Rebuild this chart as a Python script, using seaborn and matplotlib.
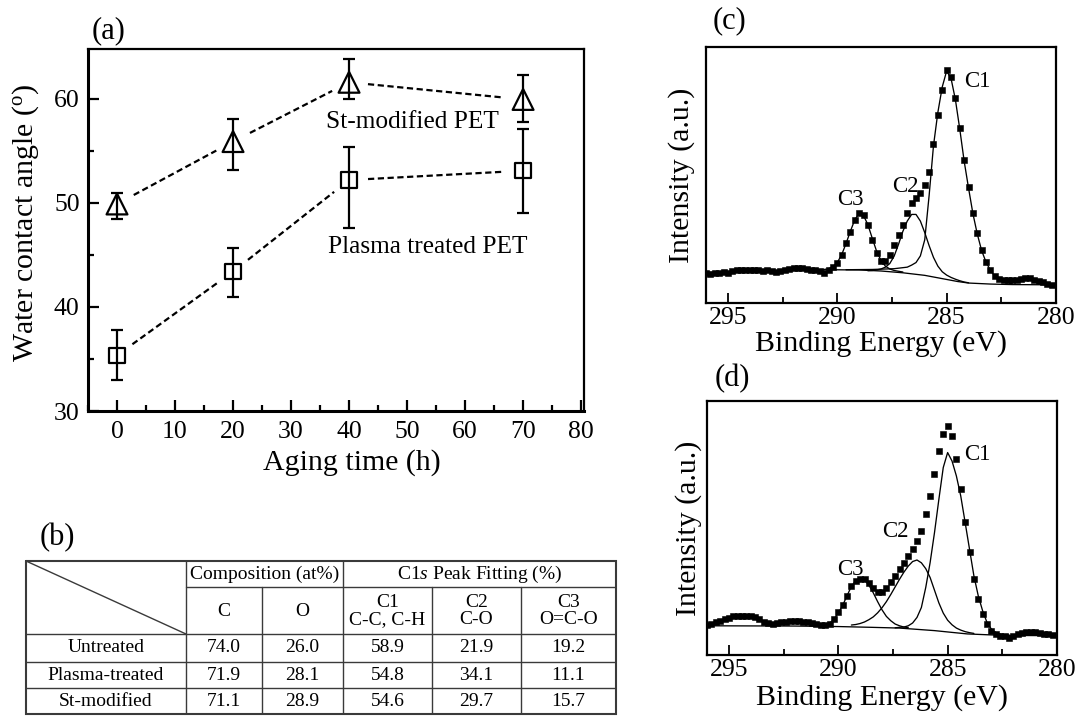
import numpy as np
import pandas as pd
import matplotlib
matplotlib.use("Agg")
import matplotlib.pyplot as plt
import seaborn as sns
from matplotlib.ticker import MultipleLocator

# ---------------- (a) water contact angle ----------------
aging_h = [0, 20, 40, 70]
st_angle = [49.9, 55.9, 61.6, 59.95]
st_err_low = [1.4, 2.7, 1.6, 2.15]
st_err_high = [1.1, 2.2, 2.2, 2.35]
plasma_angle = [35.35, 43.4, 52.2, 53.1]
plasma_err_low = [2.35, 2.4, 4.6, 4.1]
plasma_err_high = [2.45, 2.3, 3.2, 4.05]

# ---------------- (b) table ----------------
row_labels = ["Untreated", "Plasma-treated", "St-modified"]
comp_C = ["74.0", "71.9", "71.1"]
comp_O = ["26.0", "28.1", "28.9"]
fit_C1 = ["58.9", "54.8", "54.6"]
fit_C2 = ["21.9", "34.1", "29.7"]
fit_C3 = ["19.2", "11.1", "15.7"]
sub_headers = ["C", "O", "C1\nC-C, C-H", "C2\nC-O", "C3\nO=C-O"]

# ---------------- (c) / (d) XPS C1s spectra ----------------
be_data = [296.0, 295.8, 295.6, 295.4, 295.2, 295.0, 294.8, 294.6, 294.4, 294.2,
           294.0, 293.8, 293.6, 293.4, 293.2, 293.0, 292.8, 292.6, 292.4, 292.2,
           292.0, 291.8, 291.6, 291.4, 291.2, 291.0, 290.8, 290.6, 290.4, 290.2,
           290.0, 289.8, 289.6, 289.4, 289.2, 289.0, 288.8, 288.6, 288.4, 288.2,
           288.0, 287.8, 287.6, 287.4, 287.2, 287.0, 286.8, 286.6, 286.4, 286.2,
           286.0, 285.8, 285.6, 285.4, 285.2, 285.0, 284.8, 284.6, 284.4, 284.2,
           284.0, 283.8, 283.6, 283.4, 283.2, 283.0, 282.8, 282.6, 282.4, 282.2,
           282.0, 281.8, 281.6, 281.4, 281.2, 281.0, 280.8, 280.6, 280.4, 280.2]

c_data = [11.7, 11.4, 11.9, 11.7, 12.1, 11.8, 12.5, 12.7, 13.0, 12.7,
          13.0, 12.7, 13.0, 12.5, 12.7, 12.5, 12.2, 12.5, 13.0, 13.2,
          13.5, 13.6, 13.5, 13.2, 13.0, 12.7, 12.5, 11.7, 13.0, 14.0,
          15.6, 18.8, 23.4, 27.9, 32.5, 35.1, 34.4, 30.5, 24.7, 19.5,
          16.6, 16.6, 18.8, 22.7, 26.6, 30.5, 35.1, 39.0, 40.9, 42.9,
          46.0, 51.3, 62.3, 73.4, 83.1, 91.2, 88.3, 79.9, 68.2, 55.8,
          45.5, 35.1, 27.3, 20.8, 16.2, 13.0, 10.6, 9.4, 8.8, 8.8,
          8.8, 9.1, 9.4, 9.6, 9.6, 9.1, 8.6, 8.1, 7.5, 7.0]

d_data = [11.8, 12.2, 12.8, 13.5, 14.2, 14.7, 15.2, 15.5, 15.5, 15.5,
          15.2, 14.8, 14.2, 13.1, 12.5, 12.2, 12.5, 12.8, 13.1, 13.2,
          13.5, 13.4, 13.1, 12.8, 12.6, 12.2, 11.8, 11.8, 12.3, 14.2,
          16.8, 19.7, 23.3, 27.0, 29.2, 30.1, 29.9, 28.3, 26.2, 24.9,
          24.9, 26.2, 28.6, 31.2, 33.8, 36.4, 39.1, 41.7, 45.0, 48.9,
          55.4, 62.6, 71.2, 80.3, 86.9, 90.1, 86.2, 77.1, 65.3, 52.2,
          40.4, 29.9, 22.0, 16.1, 12.2, 9.6, 8.3, 7.6, 7.3, 6.8,
          7.3, 8.1, 8.7, 8.9, 9.2, 8.9, 8.7, 8.4, 8.1, 7.9]

# fitted components (read as total height incl. background)
c_base_be = [296.0, 294.0, 292.0, 290.4, 289.0, 288.0, 287.0, 286.0, 285.5, 285.0, 284.5, 284.0, 283.0, 282.0, 280.1]
c_base = [11.9, 12.3, 12.7, 13.0, 12.9, 12.5, 11.8, 10.8, 10.0, 9.2, 8.4, 7.8, 7.4, 7.2, 7.1]

c_c3_be = [290.8, 290.6, 290.4, 290.2, 290.0, 289.8, 289.6, 289.4, 289.2, 289.0,
           288.8, 288.6, 288.4, 288.2, 288.0, 287.8, 287.6, 287.4, 287.2, 287.0]
c_c3 = [13.0, 13.1, 13.4, 14.2, 15.8, 18.8, 23.2, 28.0, 32.5, 35.0,
        34.2, 30.6, 25.3, 20.2, 16.6, 14.4, 13.3, 12.7, 12.4, 12.1]

c_c2_be = [288.6, 288.4, 288.2, 288.0, 287.8, 287.6, 287.4, 287.2, 287.0, 286.8,
           286.6, 286.4, 286.2, 286.0, 285.8, 285.6, 285.4, 285.2, 285.0, 284.8,
           284.6, 284.4, 284.2, 284.0]
c_c2 = [12.6, 12.7, 12.9, 13.3, 14.0, 15.4, 18.3, 22.9, 28.0, 32.0,
        34.6, 34.6, 32.0, 27.5, 22.4, 17.8, 14.4, 12.2, 10.9, 10.0,
        9.3, 8.7, 8.2, 7.9]

c_c1_be = [289.6, 288.4, 287.4, 287.0, 286.8, 286.6, 286.4, 286.2, 286.0, 285.8,
           285.6, 285.4, 285.2, 285.0, 284.8, 284.6, 284.4, 284.2, 284.0, 283.8,
           283.6, 283.4, 283.2, 283.0, 282.8, 282.6, 282.4, 282.2, 282.0]
c_c1 = [13.0, 13.1, 13.4, 13.8, 14.0, 14.8, 15.8, 18.4, 24.7, 42.0,
        61.5, 74.5, 84.4, 90.6, 87.8, 79.5, 68.0, 55.5, 45.0, 35.0,
        27.0, 20.5, 16.0, 12.8, 10.5, 9.2, 8.4, 7.9, 7.6]

d_base_be = [296.0, 292.0, 290.0, 288.5, 287.2, 286.4, 285.6, 284.8, 284.1, 283.0, 282.0, 280.1]
d_base = [11.5, 11.4, 11.2, 10.9, 10.6, 10.1, 9.6, 8.9, 8.3, 7.9, 7.7, 7.6]

d_c3_be = [291.0, 290.8, 290.6, 290.4, 290.2, 290.0, 289.8, 289.6, 289.4, 289.2,
           289.0, 288.8, 288.6, 288.4, 288.2, 288.0, 287.8, 287.6, 287.4, 287.2,
           287.0, 286.8]
d_c3 = [11.5, 11.6, 11.8, 12.5, 14.0, 16.5, 19.5, 23.3, 27.0, 29.3,
        30.1, 29.5, 27.5, 24.5, 21.0, 17.8, 15.2, 13.5, 12.2, 11.5,
        11.0, 10.8]

d_c2_be = [289.4, 289.2, 289.0, 288.8, 288.6, 288.4, 288.2, 288.0, 287.8, 287.6,
           287.4, 287.2, 287.0, 286.8, 286.6, 286.4, 286.2, 286.0, 285.8, 285.6,
           285.4, 285.2, 285.0, 284.8, 284.6, 284.4, 284.2, 284.0, 283.8]
d_c2 = [11.8, 12.0, 12.4, 13.0, 13.9, 15.0, 16.6, 18.6, 21.0, 23.8,
        26.8, 29.8, 32.6, 35.0, 36.8, 37.4, 36.3, 34.0, 30.5, 25.5,
        20.5, 16.5, 13.7, 11.9, 10.6, 9.8, 9.2, 8.8, 8.5]

d_c1_be = [287.4, 287.2, 287.0, 286.8, 286.6, 286.4, 286.2, 286.0, 285.8, 285.6,
           285.4, 285.2, 285.0, 284.8, 284.6, 284.4, 284.2, 284.0, 283.8, 283.6,
           283.4, 283.2, 283.0, 282.8, 282.6, 282.4, 282.2]
d_c1 = [10.7, 10.9, 11.0, 11.5, 12.6, 14.8, 18.7, 26.6, 36.4, 48.2,
        61.3, 73.8, 79.7, 76.4, 70.5, 62.6, 52.2, 41.7, 31.2, 23.3,
        17.4, 12.8, 10.2, 8.9, 8.3, 8.0, 7.9]

# ---------------- style ----------------
sns.set_style("ticks")
plt.rcParams["font.family"] = ["Liberation Serif", "DejaVu Serif"]
plt.rcParams["mathtext.fontset"] = "custom"
plt.rcParams["mathtext.rm"] = "Liberation Serif"
plt.rcParams["mathtext.it"] = "Liberation Serif:italic"
plt.rcParams["text.color"] = "black"
plt.rcParams["axes.labelcolor"] = "black"
plt.rcParams["xtick.color"] = "black"
plt.rcParams["ytick.color"] = "black"

W, H = 1079, 718
fig = plt.figure(figsize=(W / 100, H / 100), dpi=100)
fig.patch.set_facecolor("white")


def px_axes(l, t, r, b):
    return fig.add_axes([l / W, 1 - b / H, (r - l) / W, (b - t) / H])


def fig_text(x, y, s, **kw):
    fig.text(x / W, 1 - y / H, s, **kw)


# ================= panel (a) =================
ax_a = px_axes(88, 49, 584, 411)
ax_a.set_xlim(-5, 80.5)
ax_a.set_ylim(30, 64.8)

ax_a.errorbar(aging_h, st_angle, yerr=[st_err_low, st_err_high], fmt="none",
              ecolor="black", elinewidth=1.6, capsize=4.5, capthick=1.6, zorder=3)
ax_a.errorbar(aging_h, plasma_angle, yerr=[plasma_err_low, plasma_err_high], fmt="none",
              ecolor="black", elinewidth=1.6, capsize=4.5, capthick=1.6, zorder=3)

df_st = pd.DataFrame({"t": aging_h, "angle": st_angle})
df_pl = pd.DataFrame({"t": aging_h, "angle": plasma_angle})
sns.scatterplot(data=df_st, x="t", y="angle", marker="^", s=15 ** 2,
                facecolor="none", edgecolor="black", linewidth=1.6, ax=ax_a, zorder=4)
sns.scatterplot(data=df_pl, x="t", y="angle", marker="s", s=11 ** 2,
                facecolor="none", edgecolor="black", linewidth=1.6, ax=ax_a, zorder=4)


def gapped_dashes(ax, xs, ys, gap_px):
    pts = ax.transData.transform(np.column_stack([xs, ys]))
    inv = ax.transData.inverted()
    for p0, p1 in zip(pts[:-1], pts[1:]):
        d = p1 - p0
        u = d / np.hypot(*d)
        a = inv.transform(p0 + u * gap_px)
        b = inv.transform(p1 - u * gap_px)
        ax.plot([a[0], b[0]], [a[1], b[1]], color="black", lw=1.6,
                linestyle=(0, (2.8, 1.6)), zorder=2)


gapped_dashes(ax_a, aging_h, st_angle, 19)
gapped_dashes(ax_a, aging_h, plasma_angle, 19)

ax_a.set_xticks([0, 10, 20, 30, 40, 50, 60, 70, 80])
ax_a.set_yticks([30, 40, 50, 60])
ax_a.xaxis.set_minor_locator(MultipleLocator(5))
ax_a.yaxis.set_minor_locator(MultipleLocator(5))
ax_a.tick_params(which="major", direction="in", length=8, width=1.6, labelsize=18.5, pad=6)
ax_a.tick_params(which="minor", direction="in", length=4.5, width=1.6)
ax_a.tick_params(axis="x", which="major", pad=7)
for side in ["left", "bottom"]:
    ax_a.spines[side].set_linewidth(2.2)
for side in ["top", "right"]:
    ax_a.spines[side].set_linewidth(1.6)
for sp in ax_a.spines.values():
    sp.set_color("black")

ax_a.set_xlabel("Aging time (h)", fontsize=21.5)
ax_a.xaxis.label.set_va("baseline")
ax_a.xaxis.set_label_coords(0.531, -(470 - 411) / 362)
ax_a.set_ylabel("Water contact angle ($^{\\rm o}$)", fontsize=21.5)
ax_a.yaxis.label.set_va("baseline")
ax_a.yaxis.set_label_coords((33 - 88) / 496, 0.519)

fig_text(412.5, 128, "St-modified PET", fontsize=18.3, ha="center", va="baseline")
fig_text(427.5, 253, "Plasma treated PET", fontsize=18.3, ha="center", va="baseline")
fig_text(109, 31, "(a)", fontsize=22, ha="center", va="center")

# ================= panel (c) and (d) =================
def xps_panel(ax, data, base_be, base, c3_be, c3, c2_be, c2, c1_be, c1):
    df = pd.DataFrame({"be": be_data, "I": data})
    for bx, by in [(base_be, base), (c3_be, c3), (c2_be, c2), (c1_be, c1)]:
        sns.lineplot(x=bx, y=by, sort=False, estimator=None, color="black",
                     lw=0.95, ax=ax, zorder=2)
    sns.scatterplot(data=df, x="be", y="I", marker="s", s=3.9 ** 2, color="black",
                    edgecolor="black", linewidth=0.4, ax=ax, zorder=3)
    ax.set_xlim(296.0, 280.1)
    ax.set_ylim(0, 100)
    ax.set_yticks([])
    ax.set_xticks([295, 290, 285, 280])
    ax.xaxis.set_minor_locator(MultipleLocator(2.5))
    ax.tick_params(axis="x", which="major", direction="in", length=7, width=1.3,
                   labelsize=18.5, pad=3)
    ax.tick_params(axis="x", which="minor", direction="in", length=4, width=1.3)
    for sp in ax.spines.values():
        sp.set_linewidth(1.6)
        sp.set_color("black")
    ax.set_xlabel("Binding Energy (eV)", fontsize=21.5)
    ax.set_ylabel("Intensity (a.u.)", fontsize=21.5)
    ax.xaxis.label.set_va("baseline")
    ax.yaxis.label.set_va("baseline")


ax_c = px_axes(706, 47, 1056, 303)
xps_panel(ax_c, c_data, c_base_be, c_base, c_c3_be, c_c3, c_c2_be, c_c2, c_c1_be, c_c1)
ax_c.xaxis.set_label_coords(0.5, -(351 - 303) / 256)
ax_c.yaxis.set_label_coords((689 - 706) / 350, 0.5)

ax_d = px_axes(707, 401, 1057, 655)
xps_panel(ax_d, d_data, d_base_be, d_base, d_c3_be, d_c3, d_c2_be, d_c2, d_c1_be, d_c1)
ax_d.xaxis.set_label_coords(0.5, -(705 - 655) / 254)
ax_d.yaxis.set_label_coords((696 - 707) / 350, 0.5)

fig_text(730, 21, "(c)", fontsize=22, ha="center", va="center")
fig_text(732, 379, "(d)", fontsize=22, ha="center", va="center")
for (x, y, s) in [(977, 87, "C1"), (905, 192, "C2"), (850, 205, "C3"),
                  (977, 460, "C1"), (895, 537, "C2"), (850, 575, "C3")]:
    fig_text(x, y, s, fontsize=16.5, ha="center", va="baseline")

# ================= panel (b) table =================
fig_text(57, 538, "(b)", fontsize=22, ha="center", va="center")
ax_t = px_axes(26, 561, 616, 714)
ax_t.set_xlim(26, 616)
ax_t.set_ylim(714, 561)
ax_t.axis("off")

col_edges = [26, 186, 262, 343, 432, 521, 616]
row_edges = [561, 587, 634, 662, 688, 714]
lc = "#3a3a3a"
# outer border
ax_t.plot([26, 616, 616, 26, 26], [561, 561, 714, 714, 561], color=lc, lw=1.5,
          clip_on=False, solid_joinstyle="miter")
# horizontal lines
ax_t.plot([186, 616], [587, 587], color=lc, lw=1.0)
for y in row_edges[2:-1]:
    ax_t.plot([26, 616], [y, y], color=lc, lw=1.0)
# vertical lines
ax_t.plot([186, 186], [561, 714], color=lc, lw=1.0)
ax_t.plot([343, 343], [561, 714], color=lc, lw=1.0)
for x in [262, 432, 521]:
    ax_t.plot([x, x], [587, 714], color=lc, lw=1.0)
# diagonal
ax_t.plot([26, 186], [561, 634], color=lc, lw=1.0)

fs_t = 14
ax_t.text((186 + 343) / 2, 574.5, "Composition (at%)", fontsize=fs_t, ha="center", va="center")
ax_t.text((343 + 616) / 2, 574.5, "C1$\\it{s}$ Peak Fitting (%)", fontsize=fs_t,
          ha="center", va="center")
for i, s in enumerate(sub_headers):
    xc = (col_edges[i + 1] + col_edges[i + 2]) / 2
    ax_t.text(xc, 611, s, fontsize=fs_t, ha="center", va="center", linespacing=1.0)

cols = [comp_C, comp_O, fit_C1, fit_C2, fit_C3]
for r in range(3):
    yc = (row_edges[r + 2] + row_edges[r + 3]) / 2
    ax_t.text(106, yc, row_labels[r], fontsize=fs_t, ha="center", va="center")
    for j, col in enumerate(cols):
        xc = (col_edges[j + 1] + col_edges[j + 2]) / 2
        ax_t.text(xc, yc, col[r], fontsize=fs_t, ha="center", va="center")

fig.savefig("out.png", dpi=100, facecolor="white")
